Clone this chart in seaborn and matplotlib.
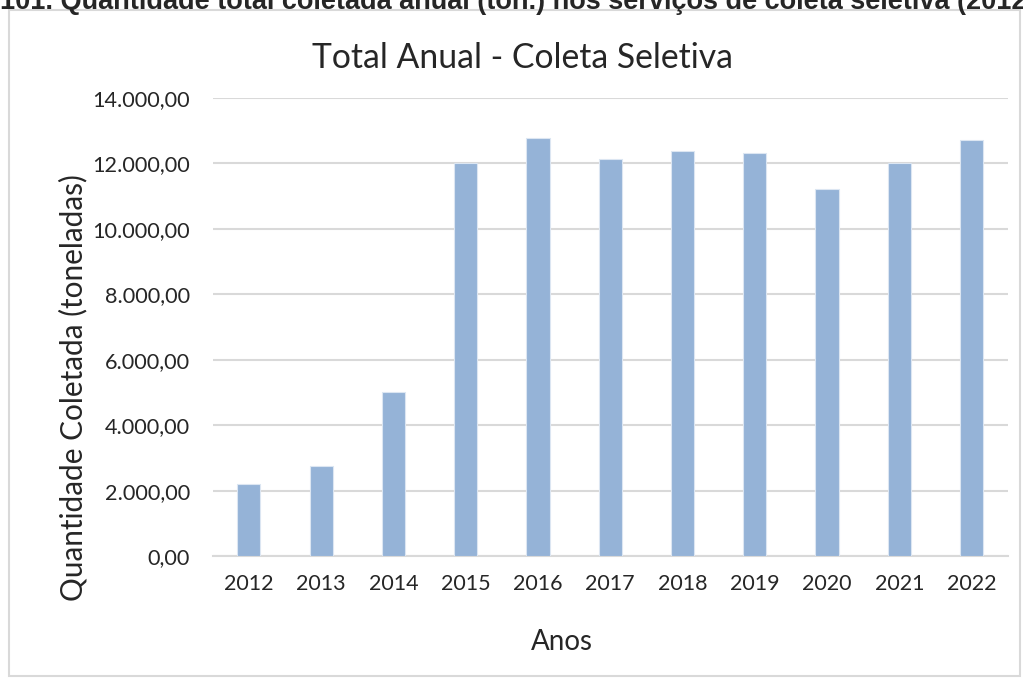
import matplotlib.pyplot as plt
import seaborn as sns
import pandas as pd
from matplotlib.ticker import FuncFormatter
from matplotlib.patches import Rectangle

anos = ["2012", "2013", "2014", "2015", "2016", "2017", "2018", "2019", "2020", "2021", "2022"]
toneladas = [2195, 2760, 5030, 12000, 12790, 12140, 12370, 12330, 11205, 12020, 12700]

df = pd.DataFrame({"Anos": anos, "Quantidade": toneladas})

sns.set_style("white")
plt.rcParams["font.family"] = ["Lato", "DejaVu Sans"]

fig = plt.figure(figsize=(10.23, 6.8), dpi=100)
ax = fig.add_axes([0.208, 0.182, 0.777, 0.674])

# moldura do grafico (estilo Excel)
fig.patches.append(Rectangle((0.009, 0.006), 0.988, 0.979, transform=fig.transFigure,
                             fill=False, edgecolor="#D9D9D9", linewidth=1.5, zorder=0))

sns.barplot(data=df, x="Anos", y="Quantidade", color="#95B3D7", saturation=1,
            width=0.32, edgecolor="#DCE6F2", linewidth=0.8, ax=ax, zorder=3)

ax.set_ylim(0, 14000)
ax.set_yticks(range(0, 14001, 2000))
ax.yaxis.set_major_formatter(FuncFormatter(
    lambda v, p: f"{v:,.2f}".replace(",", "X").replace(".", ",").replace("X", ".")))
ax.grid(axis="y", color="#D9D9D9", linewidth=1.5, zorder=0)
ax.set_axisbelow(True)
for s in ["top", "right", "left"]:
    ax.spines[s].set_visible(False)
ax.spines["bottom"].set_color("#D9D9D9")
ax.spines["bottom"].set_linewidth(1.5)
ax.tick_params(axis="y", length=0, pad=16.5, labelsize=15.6)
ax.tick_params(axis="x", length=0, pad=13, labelsize=15.5)
ax.set_xlabel("")
ax.set_ylabel("")

fig.text(0.549, 0.056, "Anos", fontsize=20, ha="center", va="center")
fig.text(0.0714, 0.4294, "Quantidade Coletada (toneladas)", fontsize=21.4,
         rotation=90, ha="center", va="center")
fig.text(0.511, 0.914, "Total Anual - Coleta Seletiva", fontsize=24.3, ha="center", va="center")

fig.text(0.0, 0.987, "101. Quantidade total coletada anual (ton.) nos serviços de coleta seletiva (2012",
         fontsize=19.5, fontweight="bold", family="Liberation Sans", va="baseline", ha="left")

fig.savefig("out.png", dpi=100, facecolor="white")
